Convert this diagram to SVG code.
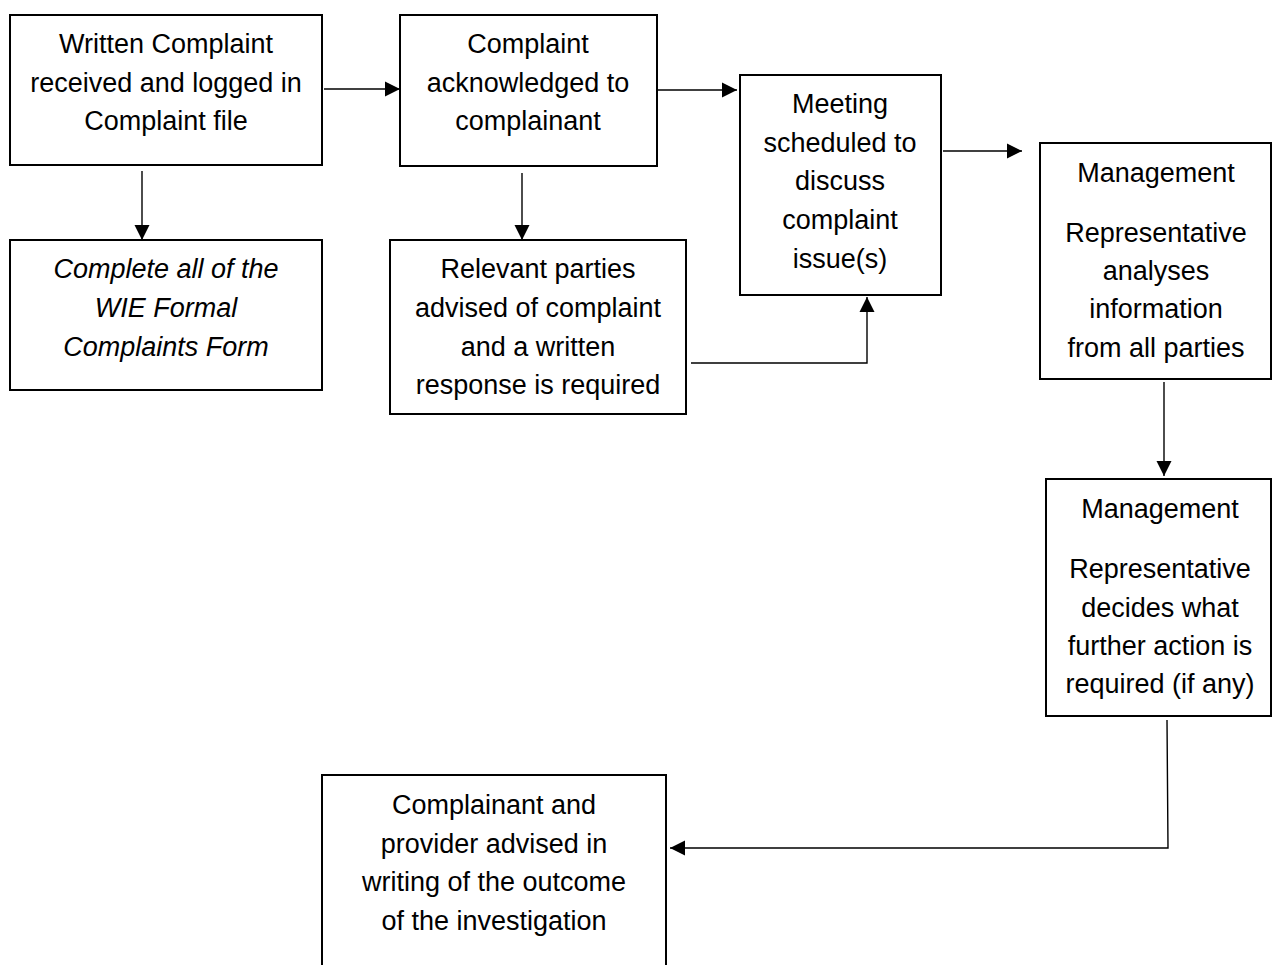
<svg xmlns="http://www.w3.org/2000/svg" width="1272" height="965" viewBox="0 0 1272 965">
<style>
.box{fill:#fff;stroke:#000;stroke-width:2}
.t{font-family:"Liberation Sans",Arial,sans-serif;font-size:27px;fill:#000;text-anchor:middle}
.i{font-style:italic}
.c{fill:none;stroke:#000;stroke-width:1.4}
</style>
<defs>
<marker id="ah" markerUnits="userSpaceOnUse" markerWidth="16" markerHeight="16" viewBox="0 0 16 16" refX="15" refY="8" orient="auto">
<path d="M0,0.5 L15,8 L0,15.5 Z" fill="#000"/>
</marker>
</defs>
<rect width="1272" height="965" fill="#fff"/>
<g id="connectors">
<line class="c" x1="142" y1="171" x2="142" y2="240" marker-end="url(#ah)"/>
<line class="c" x1="324" y1="89" x2="400" y2="89" marker-end="url(#ah)"/>
<line class="c" x1="522" y1="173" x2="522" y2="240" marker-end="url(#ah)"/>
<line class="c" x1="658" y1="90" x2="737" y2="90" marker-end="url(#ah)"/>
<polyline class="c" points="691,363 867,363 867,297" marker-end="url(#ah)"/>
<line class="c" x1="943" y1="151" x2="1022" y2="151" marker-end="url(#ah)"/>
<line class="c" x1="1164" y1="382" x2="1164" y2="476" marker-end="url(#ah)"/>
<polyline class="c" points="1167,720 1168,848 670,848" marker-end="url(#ah)"/>
</g>
<g id="n1">
<rect class="box" x="10" y="15" width="312" height="150"/>
<text class="t" x="166" y="53">Written Complaint</text>
<text class="t" x="166" y="92">received and logged in</text>
<text class="t" x="166" y="130">Complaint file</text>
</g>
<g id="n2">
<rect class="box" x="10" y="240" width="312" height="150"/>
<text class="t i" x="166" y="278">Complete all of the</text>
<text class="t i" x="166" y="317">WIE Formal</text>
<text class="t i" x="166" y="356">Complaints Form</text>
</g>
<g id="n3">
<rect class="box" x="400" y="15" width="257" height="151"/>
<text class="t" x="528" y="53">Complaint</text>
<text class="t" x="528" y="92">acknowledged to</text>
<text class="t" x="528" y="130">complainant</text>
</g>
<g id="n4">
<rect class="box" x="390" y="240" width="296" height="174"/>
<text class="t" x="538" y="278">Relevant parties</text>
<text class="t" x="538" y="317">advised of complaint</text>
<text class="t" x="538" y="356">and a written</text>
<text class="t" x="538" y="394">response is required</text>
</g>
<g id="n5">
<rect class="box" x="740" y="75" width="201" height="220"/>
<text class="t" x="840" y="113">Meeting</text>
<text class="t" x="840" y="152">scheduled to</text>
<text class="t" x="840" y="190">discuss</text>
<text class="t" x="840" y="229">complaint</text>
<text class="t" x="840" y="268">issue(s)</text>
</g>
<g id="n6">
<rect class="box" x="1040" y="143" width="231" height="236"/>
<text class="t" x="1156" y="182">Management</text>
<text class="t" x="1156" y="242">Representative</text>
<text class="t" x="1156" y="280">analyses</text>
<text class="t" x="1156" y="318">information</text>
<text class="t" x="1156" y="357">from all parties</text>
</g>
<g id="n7">
<rect class="box" x="1046" y="479" width="225" height="237"/>
<text class="t" x="1160" y="518">Management</text>
<text class="t" x="1160" y="578">Representative</text>
<text class="t" x="1160" y="617">decides what</text>
<text class="t" x="1160" y="655">further action is</text>
<text class="t" x="1160" y="693">required (if any)</text>
</g>
<g id="n8">
<rect class="box" x="322" y="775" width="344" height="200"/>
<text class="t" x="494" y="814">Complainant and</text>
<text class="t" x="494" y="853">provider advised in</text>
<text class="t" x="494" y="891">writing of the outcome</text>
<text class="t" x="494" y="930">of the investigation</text>
</g>
</svg>
